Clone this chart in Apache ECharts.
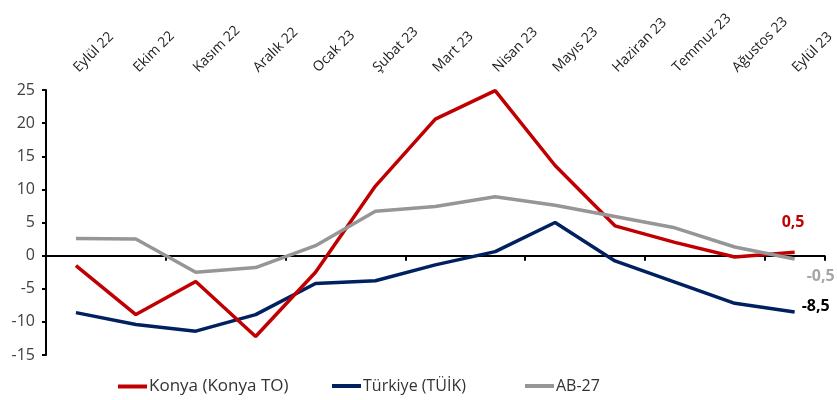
<!DOCTYPE html>
<html>
<head>
<meta charset="utf-8">
<script src="https://cdn.jsdelivr.net/npm/echarts@6/dist/echarts.min.js"></script>
<style>html,body{margin:0;padding:0;background:#fff}#c{width:837px;height:400px}</style>
</head>
<body>
<div id="c"></div>
<script>
const categories = ['Eylül 22','Ekim 22','Kasım 22','Aralık 22','Ocak 23','Şubat 23','Mart 23','Nisan 23','Mayıs 23','Haziran 23','Temmuz 23','Ağustos 23','Eylül 23'];
const konya   = [-1.5, -8.9, -3.9, -12.2, -2.5, 10.5, 20.6, 24.9, 13.6, 4.5, 2.0, -0.2, 0.5];
const turkiye = [-8.6, -10.4, -11.4, -8.9, -4.2, -3.8, -1.4, 0.6, 5.0, -0.8, -4.0, -7.2, -8.5];
const ab27    = [2.6, 2.5, -2.5, -1.8, 1.5, 6.7, 7.4, 8.9, 7.6, 5.9, 4.2, 1.3, -0.5];
const yTicks  = [-15, -10, -5, 0, 5, 10, 15, 20, 25];
const names   = ['Konya (Konya TO)', 'Türkiye (TÜİK)', 'AB-27'];

const FONT = '"Open Sans", sans-serif';
const fmt = v => String(v).replace('.', ',');

function endLabel(color, offset) {
  return { show: true, formatter: p => fmt(p.value[1] !== undefined ? p.value[1] : p.value), color: color, fontFamily: FONT, fontWeight: 'bold', fontSize: 16, distance: 0, offset: offset };
}
function legendAt(name, left, size) {
  return { data: [name], left: left, top: 373, itemWidth: 29, itemHeight: 4, itemGap: 0, icon: 'rect',
    textStyle: { fontSize: size, color: '#333', fontFamily: FONT, padding: [0, 0, 0, -3] } };
}

const chart = echarts.init(document.getElementById('c'), null, { renderer: 'canvas' });
chart.setOption({
  animation: false,
  backgroundColor: '#fff',
  grid: { left: 46, right: 9, top: 90, bottom: 45 },
  xAxis: [
    {
      type: 'category', data: categories, position: 'bottom',
      axisLine: { onZero: true, lineStyle: { color: '#000', width: 2 } },
      axisTick: { show: true, length: 5, lineStyle: { color: '#000', width: 2 } },
      axisLabel: { show: false }, splitLine: { show: false }
    },
    {
      type: 'category', data: categories, position: 'top',
      axisLine: { show: false }, axisTick: { show: false },
      axisLabel: { rotate: -45, margin: 20, fontSize: 14, color: '#222', fontFamily: FONT, interval: 0 }
    }
  ],
  yAxis: {
    type: 'value', min: yTicks[0], max: yTicks[yTicks.length - 1], interval: 5,
    axisLine: { show: true, onZero: false, lineStyle: { color: '#000', width: 2 } },
    axisTick: { show: true, length: 4, lineStyle: { color: '#000', width: 2 } },
    axisLabel: { fontSize: 16, color: '#404040', fontFamily: FONT, margin: 11 },
    splitLine: { show: false }
  },
  legend: [legendAt(names[0], 113, 17), legendAt(names[1], 327, 16), legendAt(names[2], 520, 16)],
  series: [
    { name: names[0], type: 'line', xAxisIndex: 0, data: konya, symbol: 'none', lineStyle: { color: '#C00000', width: 3.5 }, itemStyle: { color: '#C00000' }, z: 3,
      endLabel: endLabel('#C00000', [-13, -30]) },
    { name: names[1], type: 'line', xAxisIndex: 0, data: turkiye, symbol: 'none', lineStyle: { color: '#002060', width: 3.5 }, itemStyle: { color: '#002060' }, z: 2,
      endLabel: endLabel('#000', [7, -6]) },
    { name: names[2], type: 'line', xAxisIndex: 0, data: ab27, symbol: 'none', lineStyle: { color: '#969696', width: 3.5 }, itemStyle: { color: '#969696' }, z: 4,
      endLabel: endLabel('#A6A6A6', [12, 17]) }
  ]
});
</script>
</body>
</html>
